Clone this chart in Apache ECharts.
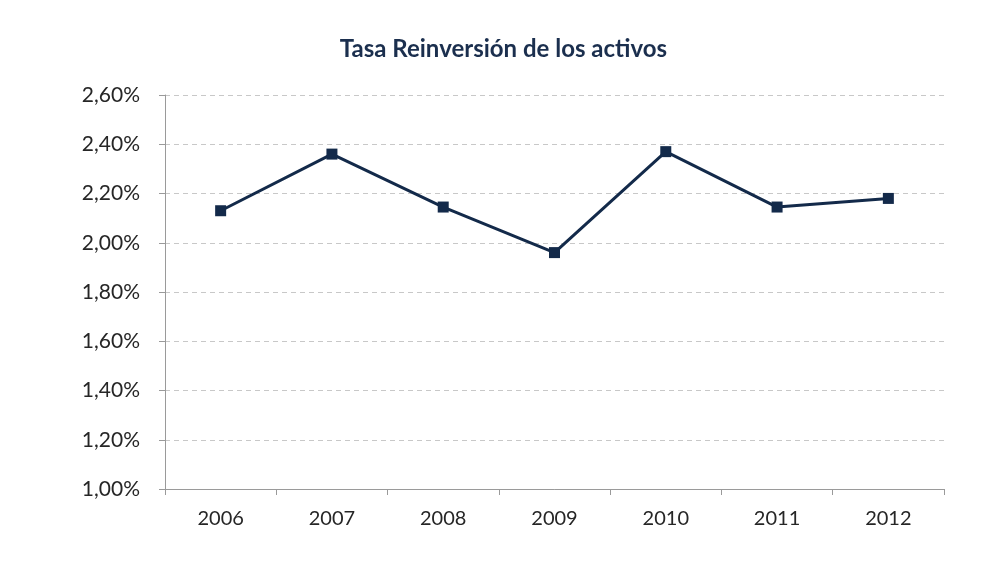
<!DOCTYPE html>
<html>
<head>
<meta charset="utf-8">
<script src="https://cdn.jsdelivr.net/npm/echarts@6/dist/echarts.min.js"></script>
<style>
  html, body { margin: 0; padding: 0; background: #fff; }
  #chart { width: 1007px; height: 580px; }
</style>
</head>
<body>
<div id="chart"></div>
<script>
  'use strict'

  var TITLE = 'Tasa Reinversión de los activos'
  var YEARS = ['2006', '2007', '2008', '2009', '2010', '2011', '2012']
  // tasa en %
  var TASA = [2.13, 2.36, 2.145, 1.96, 2.37, 2.145, 2.18]

  var FONT = 'Lato, "Open Sans", sans-serif'
  var NAVY = '#132a4a'

  var chart = echarts.init(document.getElementById('chart'))

  chart.setOption({
    animation: false,
    backgroundColor: '#fff',
    title: {
      text: TITLE,
      left: 'center',
      top: 32,
      textStyle: { fontFamily: FONT, fontSize: 24, fontWeight: 'bold', color: '#1b2f4e' }
    },
    grid: { left: 165, right: 63, top: 95, bottom: 91 },
    xAxis: {
      type: 'category',
      data: YEARS,
      boundaryGap: true,
      axisLine: { lineStyle: { color: '#9a9a9a', width: 1 } },
      axisTick: { show: true, length: 6, lineStyle: { color: '#9a9a9a' } },
      axisLabel: { fontFamily: FONT, fontSize: 20, color: '#262626', margin: 20 }
    },
    yAxis: {
      type: 'value',
      min: 1.0,
      max: 2.6,
      interval: 0.2,
      axisLine: { show: true, lineStyle: { color: '#9a9a9a', width: 1 } },
      axisTick: { show: true, length: 6, lineStyle: { color: '#9a9a9a' } },
      axisLabel: {
        fontFamily: FONT, fontSize: 21, color: '#262626', margin: 25,
        formatter: function (v) { return v.toFixed(2).replace('.', ',') + '%' }
      },
      splitLine: { lineStyle: { color: '#c8c8c8', type: [5, 4], width: 1 } }
    },
    series: [{
      type: 'line',
      data: TASA,
      symbol: 'rect',
      symbolSize: 11,
      lineStyle: { color: NAVY, width: 3 },
      itemStyle: { color: NAVY }
    }]
  })
</script>
</body>
</html>
